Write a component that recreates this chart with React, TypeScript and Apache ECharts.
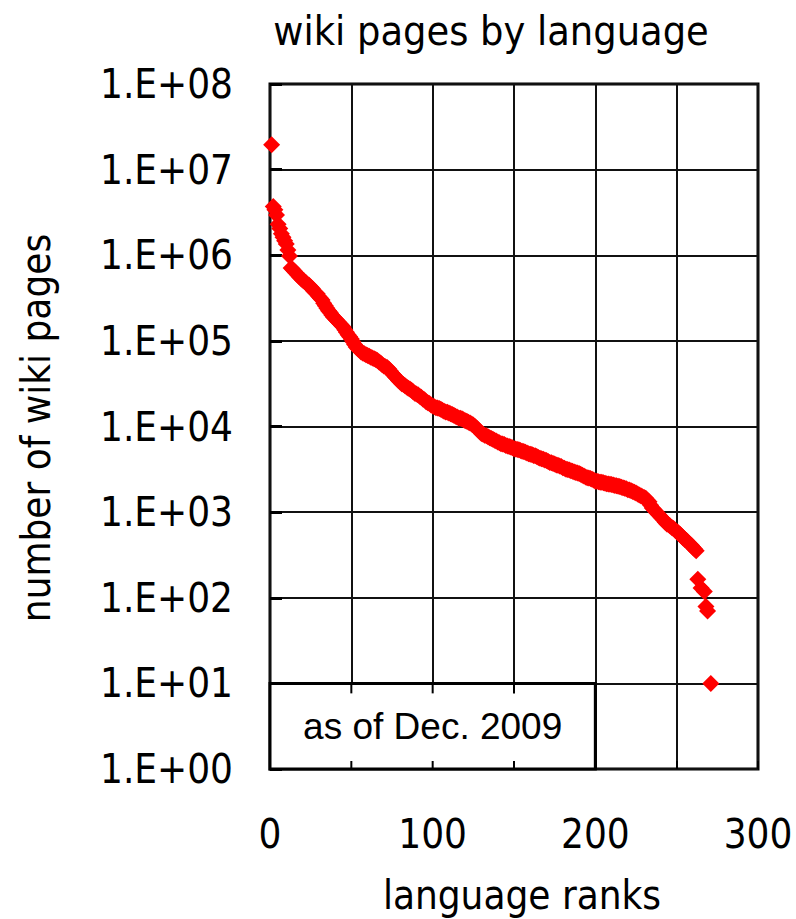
import React, { useEffect, useRef } from "react";
import * as echarts from "echarts";

// number of wiki pages per language, ranks 1..262
const headCounts = [
  19500000, 3700000, 3400000, 2950000, 2300000, 2050000, 1780000, 1620000, 1480000, 1350000,
  1150000, 980000, 710000, 680000, 650000, 620000, 590000, 560000, 540000, 515000,
  500000, 480000, 455000, 445000, 425000, 410000, 380000, 365000, 355000, 330000,
  315000, 300000, 275000, 257000, 240000, 225000, 214000, 200000, 190000, 182000,
  174000, 166000, 158000, 151000, 145000, 135000, 126000, 118000, 112000, 105000,
  98000, 91000, 85000, 81000, 78000, 74000, 72000, 70500, 69000, 67500,
  66000, 64500, 63000, 62000, 60500, 59000, 56500, 55000, 52500, 51000,
  50000, 49000, 47000, 44500, 42000, 40000, 38000, 36500, 34500, 33000,
  31500, 31000, 30000, 29000, 28000, 27500, 26500, 25500, 24500, 24000,
  23500, 22500, 22000, 21000, 20500, 19500, 19000, 18500, 17800, 17400,
  17000, 16600, 16500, 16200, 15900, 15500, 15100, 14800, 14700, 14400,
  14100, 13800, 13500, 13200, 12900, 12600, 12500, 12300, 12000, 11700,
  11500, 11200, 11000, 10700, 10400, 10000, 9600, 9100, 8700, 8300,
  8100, 7900, 7800, 7600, 7400, 7250, 7100, 6900, 6750, 6600,
  6450, 6300, 6250, 6150, 6000, 5900, 5850, 5750, 5650, 5500,
  5450, 5400, 5350, 5250, 5150, 5100, 5000, 4900, 4800, 4750,
  4700, 4600, 4550, 4450, 4350, 4250, 4200, 4150, 4050, 4000,
  3900, 3800, 3780, 3700, 3650, 3550, 3520, 3450, 3400, 3300,
  3250, 3170, 3150, 3100, 3050, 3000, 2950, 2900, 2870, 2820,
  2770, 2700, 2650, 2580, 2520, 2500, 2470, 2420, 2370, 2300,
  2290, 2260, 2240, 2230, 2200, 2180, 2150, 2130, 2120, 2100,
  2080, 2050, 2030, 2000, 1990, 1950, 1920, 1900, 1870, 1830,
  1810, 1780, 1740, 1710, 1670, 1630, 1590, 1550, 1510, 1480,
  1450, 1380, 1320, 1200, 1120, 1070, 1020, 980, 930, 890,
  850, 810, 760, 725, 710, 690, 660, 645, 620, 590,
  575, 550, 525, 500, 480, 465, 445, 425, 410, 390,
  370, 355,
];
// the smallest wikis (some ranks have no pages and are not plotted)
const tailRanks = [263, 265, 267, 268, 269, 271];
const tailCounts = [165, 130, 118, 79, 70, 10];

const xTicks = [0, 100, 200, 300];
const yMin = 1;
const yMax = 1e8;

const chartTitle = "wiki pages by language";
const xTitle = "language ranks";
const yTitle = "number of wiki pages";
const note = "as of Dec. 2009";

const AXIS_FONT = "'DejaVu Sans Condensed', 'DejaVu Sans', sans-serif";
const NOTE_FONT = "'Liberation Sans', Arial, sans-serif";

const GRID = { left: 270, top: 84, width: 488, height: 685 };

export default function App() {
  const ref = useRef<HTMLDivElement>(null);

  useEffect(() => {
    if (!ref.current) return;
    const chart = echarts.init(ref.current, null, { renderer: "svg" });
    const data: [number, number][] = headCounts.map((v, i) => [i + 1, v]);
    tailRanks.forEach((r, i) => data.push([r, tailCounts[i]]));

    chart.setOption({
      animation: false,
      backgroundColor: "#fff",
      grid: { ...GRID, show: true, borderColor: "#000", borderWidth: 3, backgroundColor: "transparent" },
      xAxis: {
        type: "value",
        min: 0,
        max: 300,
        interval: 50,
        axisLine: { show: false },
        axisTick: { show: true, inside: true, length: 8, lineStyle: { color: "#000", width: 2 } },
        splitLine: { show: true, lineStyle: { color: "#111", width: 2 } },
        axisLabel: {
          margin: 45,
          fontFamily: AXIS_FONT,
          fontSize: 40,
          color: "#000",
          formatter: (v: number) => (xTicks.includes(v) ? String(v) : ""),
        },
      },
      yAxis: {
        type: "log",
        logBase: 10,
        min: yMin,
        max: yMax,
        splitNumber: 8,
        axisLine: { show: false },
        axisTick: { show: true, inside: true, length: 12, lineStyle: { color: "#000", width: 3 } },
        splitLine: { show: true, lineStyle: { color: "#111", width: 2 } },
        axisLabel: {
          margin: 37,
          fontFamily: AXIS_FONT,
          fontSize: 40,
          color: "#000",
          formatter: (v: number) => {
            const e = Math.round(Math.log10(v));
            return "1.E+" + (e < 10 ? "0" : "") + e;
          },
        },
      },
      series: [
        {
          type: "scatter",
          data,
          symbol: "diamond",
          symbolSize: 17,
          itemStyle: { color: "#ff0000", opacity: 1 },
          z: 3,
        },
      ],
    });

    const p0 = chart.convertToPixel({ gridIndex: 0 }, [0, 10]) as number[];
    const p1 = chart.convertToPixel({ gridIndex: 0 }, [200, 1]) as number[];
    const stubs: any[] = [];
    [50, 100, 150].forEach((x) => {
      const px = (chart.convertToPixel({ gridIndex: 0 }, [x, 1]) as number[])[0];
      stubs.push({ type: "line", z: 20, shape: { x1: px, y1: p0[1], x2: px, y2: p0[1] + 10 }, style: { stroke: "#000", lineWidth: 2 } });
      stubs.push({ type: "line", z: 20, shape: { x1: px, y1: p1[1] - 8, x2: px, y2: p1[1] }, style: { stroke: "#000", lineWidth: 2 } });
    });

    chart.setOption({
      graphic: [
        {
          type: "rect",
          z: 10,
          shape: { x: p0[0], y: p0[1], width: p1[0] - p0[0], height: p1[1] - p0[1] },
          style: { fill: "#fff", stroke: "#000", lineWidth: 3 },
        },
        {
          type: "text",
          z: 21,
          x: (p0[0] + p1[0]) / 2,
          y: (p0[1] + p1[1]) / 2,
          style: { text: note, fontFamily: NOTE_FONT, fontSize: 37, fill: "#000", align: "center", verticalAlign: "middle" },
        },
        ...stubs,
        {
          type: "text",
          x: 491,
          y: 31,
          style: { text: chartTitle, fontFamily: AXIS_FONT, fontSize: 41, fill: "#000", align: "center", verticalAlign: "middle" },
        },
        {
          type: "text",
          x: 522,
          y: 895,
          style: { text: xTitle, fontFamily: AXIS_FONT, fontSize: 40, fill: "#000", align: "center", verticalAlign: "middle" },
        },
        {
          type: "text",
          x: 36,
          y: 428,
          rotation: Math.PI / 2,
          style: { text: yTitle, fontFamily: AXIS_FONT, fontSize: 40, fill: "#000", align: "center", verticalAlign: "middle" },
        },
      ],
    });

    return () => chart.dispose();
  }, []);

  return <div ref={ref} style={{ position: "fixed", left: 0, top: 0, width: 796, height: 919 }} />;
}
